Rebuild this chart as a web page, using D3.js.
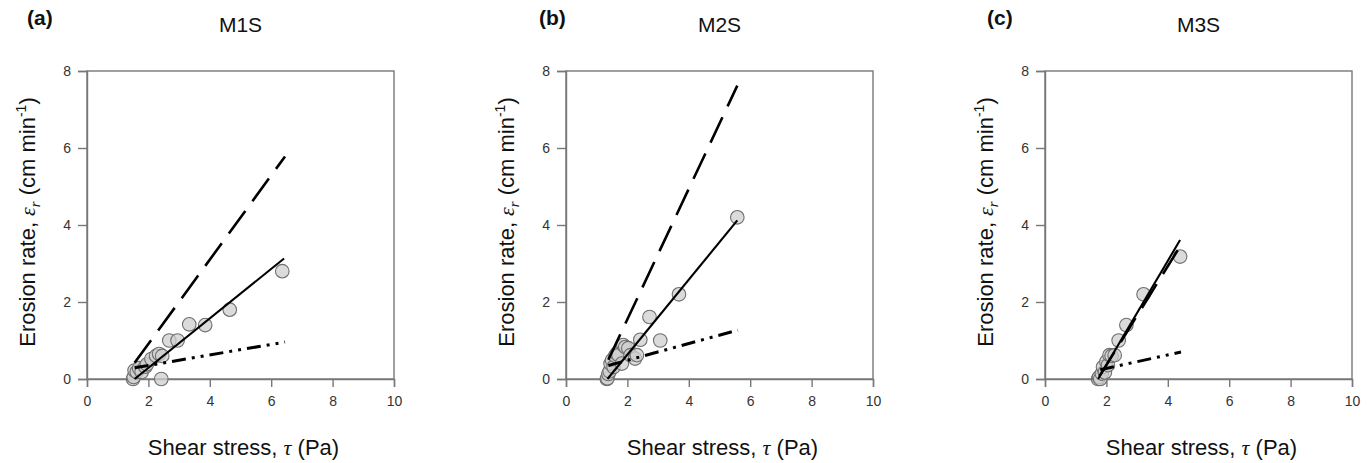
<!DOCTYPE html>
<html><head><meta charset="utf-8">
<script src="https://cdn.jsdelivr.net/npm/d3@7"></script>
<style>body{margin:0;background:#fff}svg{display:block}</style>
</head><body>
<svg id="chart" width="1367" height="463"></svg>
<script>
// ---- data ----
const panelLabels = ["(a)", "(b)", "(c)"];
const panelTitles = ["M1S", "M2S", "M3S"];
const xTicks = [0, 2, 4, 6, 8, 10];
const yTicks = [0, 2, 4, 6, 8];

const m1sX = [1.50,1.52,1.55,1.62,1.70,1.78,1.90,1.95,2.10,2.25,2.35,2.45,2.42,2.68,2.95,3.33,3.85,4.65,6.36];
const m1sY = [0.00,0.05,0.22,0.18,0.28,0.18,0.32,0.38,0.52,0.60,0.65,0.60,0.00,1.00,1.00,1.42,1.40,1.80,2.80];
const m2sX = [1.33,1.35,1.38,1.42,1.45,1.50,1.55,1.60,1.65,1.71,1.82,1.87,1.93,2.03,2.10,2.25,2.31,2.42,2.72,3.07,3.68,5.58];
const m2sY = [0.00,0.02,0.13,0.20,0.40,0.49,0.31,0.60,0.66,0.62,0.40,0.88,0.83,0.80,0.62,0.53,0.62,1.02,1.61,1.00,2.20,4.20];
const m3sX = [1.73,1.76,1.80,1.85,1.89,1.95,2.00,2.05,2.10,2.17,2.27,2.40,2.65,3.21,4.40];
const m3sY = [0.00,0.05,0.00,0.14,0.31,0.17,0.45,0.36,0.62,0.60,0.62,1.00,1.40,2.20,3.18];

// fitted lines: [x0, y0, x1, y1]
const m1sSolid   = [1.55, 0.00, 6.42, 3.13];
const m1sDashed  = [1.55, 0.42, 6.45, 5.78];
const m1sDashDot = [1.55, 0.29, 6.45, 0.96];
const m2sSolid   = [1.35, 0.00, 5.58, 4.12];
const m2sDashed  = [1.38, 0.50, 5.58, 7.62];
const m2sDashDot = [1.38, 0.35, 5.60, 1.27];
const m3sSolid   = [1.73, 0.00, 4.40, 3.61];
const m3sDashed  = [1.78, 0.08, 4.35, 3.38];
const m3sDashDot = [1.80, 0.24, 4.43, 0.70];

const panels = [
  {label: panelLabels[0], title: panelTitles[0], xs: m1sX, ys: m1sY, solid: m1sSolid, dashed: m1sDashed, dashdot: m1sDashDot},
  {label: panelLabels[1], title: panelTitles[1], xs: m2sX, ys: m2sY, solid: m2sSolid, dashed: m2sDashed, dashdot: m2sDashDot},
  {label: panelLabels[2], title: panelTitles[2], xs: m3sX, ys: m3sY, solid: m3sSolid, dashed: m3sDashed, dashdot: m3sDashDot}
];

// ---- layout ----
const plotLefts = [87, 566, 1045];
const labelLefts = [27, 539, 987];
const plotW = 307, plotTop = 71, plotBottom = 379;
const sans = "Arial, 'Liberation Sans', sans-serif";
const serif = "'Times New Roman', 'Liberation Serif', serif";

const svg = d3.select("#chart");

panels.forEach((p, i) => {
  const L = plotLefts[i];
  const x = d3.scaleLinear().domain([0, 10]).range([L, L + plotW]);
  const y = d3.scaleLinear().domain([0, 8]).range([plotBottom, plotTop]);
  const g = svg.append("g");

  // frame
  g.append("rect").attr("x", x(0)).attr("y", y(8))
    .attr("width", x(10) - x(0)).attr("height", y(0) - y(8))
    .attr("fill", "none").attr("stroke", "#777").attr("stroke-width", 1.4);

  const xa = g.append("g").attr("transform", `translate(0,${plotBottom})`)
    .call(d3.axisBottom(x).tickValues(xTicks).tickSize(8).tickPadding(9).tickFormat(d3.format("d")));
  const ya = g.append("g").attr("transform", `translate(${L},0)`)
    .call(d3.axisLeft(y).tickValues(yTicks).tickSize(9).tickPadding(7).tickFormat(d3.format("d")));
  [xa, ya].forEach(a => {
    a.attr("font-size", 14).attr("font-family", sans);
    a.select(".domain").attr("stroke", "#777").attr("stroke-width", 1.4);
    a.selectAll(".tick line").attr("stroke", "#777").attr("stroke-width", 1.4);
    a.selectAll(".tick text").attr("fill", "#333").style("font-family", sans).style("font-size", "14px");
  });

  // points
  g.selectAll("circle.pt").data(p.xs.map((v, k) => [v, p.ys[k]])).enter().append("circle")
    .attr("class", "pt")
    .attr("cx", d => x(d[0])).attr("cy", d => y(d[1])).attr("r", 6.8)
    .attr("fill", "#cfcfcf").attr("fill-opacity", 0.75)
    .attr("stroke", "#6e6e6e").attr("stroke-width", 1.1);

  const line = d3.line().x(d => x(d[0])).y(d => y(d[1]));
  const seg = a => [[a[0], a[1]], [a[2], a[3]]];
  g.append("path").attr("d", line(seg(p.dashed))).attr("fill", "none")
    .attr("stroke", "#000").attr("stroke-width", 2.6).attr("stroke-dasharray", "28,12");
  g.append("path").attr("d", line(seg(p.solid))).attr("fill", "none")
    .attr("stroke", "#000").attr("stroke-width", 2.1);
  g.append("path").attr("d", line(seg(p.dashdot))).attr("fill", "none")
    .attr("stroke", "#000").attr("stroke-width", 3).attr("stroke-dasharray", "14,6,3,6,3,6");

  // panel label and title
  svg.append("text").attr("x", labelLefts[i]).attr("y", 25)
    .style("font-family", sans).style("font-size", "21px").style("font-weight", "bold")
    .attr("fill", "#111").text(p.label);
  svg.append("text").attr("x", (x(0) + x(10)) / 2).attr("y", 32).attr("text-anchor", "middle")
    .style("font-family", sans).style("font-size", "21px").attr("fill", "#111").text(p.title);

  // x axis title
  const xt = svg.append("text").attr("x", (x(0) + x(10)) / 2 + 3).attr("y", 455).attr("text-anchor", "middle")
    .style("font-family", sans).style("font-size", "22px").attr("fill", "#111");
  xt.append("tspan").text("Shear stress,  ");
  xt.append("tspan").style("font-family", serif).style("font-style", "italic").text("τ");
  xt.append("tspan").text(" (Pa)");

  // y axis title
  const yt = svg.append("text")
    .attr("transform", `translate(${L - 52},${(plotTop + plotBottom) / 2 - 3}) rotate(-90)`)
    .attr("text-anchor", "middle")
    .style("font-family", sans).style("font-size", "22px").attr("fill", "#111");
  yt.append("tspan").text("Erosion rate,  ");
  yt.append("tspan").style("font-family", serif).style("font-style", "italic").text("ε");
  yt.append("tspan").style("font-family", serif).style("font-style", "italic").style("font-size", "15px")
    .attr("dy", 5).text("r");
  yt.append("tspan").attr("dy", -5).text(" (cm min");
  yt.append("tspan").style("font-size", "14px").attr("dy", -9).text("-1");
  yt.append("tspan").attr("dy", 9).text(")");
});
</script>
</body></html>
